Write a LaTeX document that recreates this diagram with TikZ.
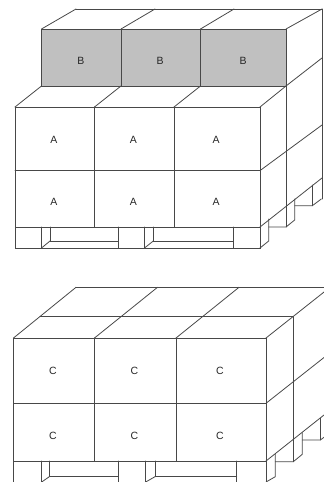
\documentclass[tikz,border=0pt]{standalone}
\usepackage{fontspec}
\setmainfont{Liberation Sans}
\definecolor{lineGray}{HTML}{484848}
\definecolor{boxGray}{HTML}{C0C0C0}
\tikzset{
    edge/.style={draw=lineGray, line width=0.8pt, line cap=round},
    boxlabel/.style={text=black!85, inner sep=0pt}
}
\begin{document}
\begin{tikzpicture}[x=1pt, y=-1pt, every node/.style={align=center, font=\fontsize{10.5}{12}\selectfont}]
    \useasboundingbox (0,0) rectangle (324,482);
    \clip (0,0) rectangle (324,482);

    % Upper pallet: grey top layer
    \fill[boxGray] (41.5,29) rectangle (286,86);
    \draw[edge] (41.5,29) rectangle (286,86);
    \foreach \x in {121,200.5}
        \draw[edge] (\x,29) -- (\x,86);
    \draw[edge] (76,9) -- (322,9);
    \foreach \x/\u in {41.5/76,121/155,200.5/234,286/322}
        \draw[edge] (\x,29) -- (\u,9);

    % Upper pallet: front layers
    \draw[edge] (15,107) rectangle (260,227);
    \draw[edge] (15,170.6) -- (260,170.6);
    \foreach \x in {94.5,174}
        \draw[edge] (\x,107) -- (\x,227);
    \foreach \x/\u in {15/41.5,94.5/121,174/200.5,260/286}
        \draw[edge] (\x,107) -- (\u,86);

    % Upper pallet: right side
    \draw[edge] (286,86) -- (286,227);
    \draw[edge] (322,9) -- (322,199);
    \draw[edge] (286,86) -- (322,58);
    \draw[edge] (260,170.6) -- (322,125);
    \draw[edge] (260,227) -- (322,178);

    % Upper pallet: base
    \draw[edge] (15,227) rectangle (260,248);
    \foreach \x in {41.5,118.3,144.5,233}
        \draw[edge] (\x,227) -- (\x,248);
    \foreach \x/\u/\v in {41.5/50/118.3,144.5/153.3/233}{
        \draw[edge] (\u,227) -- (\u,241);
        \draw[edge] (\u,241) -- (\v,241);
        \draw[edge] (\x,248) -- (\u,241);
    }
    \draw[edge] (268.7,219) -- (268.7,241) -- (260,248);
    \draw[edge] (268.7,227) -- (286,227) -- (294.7,220) -- (294.7,199);
    \draw[edge] (294.7,205.7) -- (312.3,205.7) -- (321.3,199);
    \draw[edge] (312.3,185) -- (312.3,205.7);

    % Upper pallet: labels
    \foreach \x/\n in {81/1,160/2,243/3}
        \node[boxlabel] (b\n) at (\x,61) {B};
    \foreach \x/\n in {54/1,133.5/2,216/3}{
        \node[boxlabel] (a\n) at (\x,139.5) {A};
        \node[boxlabel] (a\n') at (\x,201.7) {A};
    }

    % Lower pallet: top faces
    \draw[edge] (76,287.3) -- (324,287.3);
    \draw[edge] (40,316.7) -- (293.3,316.7);
    \foreach \x/\u in {13.5/76,94.5/157.5,176/239,266/330}
        \draw[edge] (\x,338) -- (\u,287.3);

    % Lower pallet: front layers
    \draw[edge] (13.5,338) rectangle (266,461);
    \draw[edge] (13.5,403.3) -- (266,403.3);
    \foreach \x in {94.5,176}
        \draw[edge] (\x,338) -- (\x,461);

    % Lower pallet: right side
    \draw[edge] (293.3,316.7) -- (293.3,461.7);
    \draw[edge] (266,403.3) -- (324,357.5);
    \draw[edge] (266,461) -- (324,415);

    % Lower pallet: base, cut by the lower edge
    \foreach \x in {13.5,41.7,118.3,145.7,236.7,266}
        \draw[edge] (\x,461) -- (\x,484);
    \foreach \x/\u/\v in {41.7/49.3/118.3,145.7/155/236.7}{
        \draw[edge] (\u,461) -- (\u,476.7);
        \draw[edge] (\u,476.7) -- (\v,476.7);
        \draw[edge] (\x,482) -- (\u,476.7);
    }
    \draw[edge] (275.3,454.3) -- (275.3,476.7) -- (266,482);
    \draw[edge] (275.3,461.7) -- (293.3,461.7) -- (302.3,454.3) -- (302.3,432.7);
    \draw[edge] (302.3,440) -- (320.3,440) -- (324,437.3);
    \draw[edge] (320.3,418.3) -- (320.3,440);

    % Lower pallet: labels
    \foreach \x/\n in {53/1,134.5/2,220/3}{
        \node[boxlabel] (c\n) at (\x,370.5) {C};
        \node[boxlabel] (c\n') at (\x,435.7) {C};
    }
\end{tikzpicture}
\end{document}
